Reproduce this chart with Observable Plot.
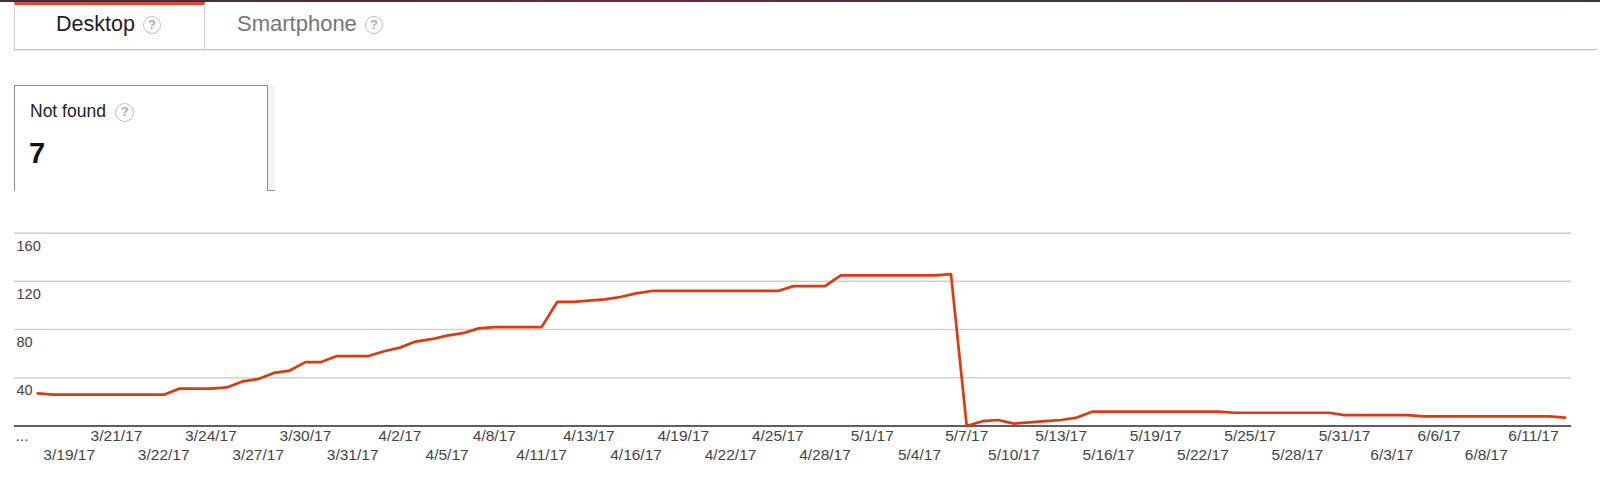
<!DOCTYPE html>
<html>
<head>
<meta charset="utf-8">
<script src="https://cdn.jsdelivr.net/npm/d3@7"></script>
<script src="https://cdn.jsdelivr.net/npm/@observablehq/plot@0.6"></script>
<style>
  html, body { margin: 0; padding: 0; background: #fff; }
  body { width: 1600px; height: 494px; position: relative; overflow: hidden;
         font-family: "Liberation Sans", Arial, Helvetica, sans-serif; }
  .abs { position: absolute; }
  .topbar { left: 0; top: 0; width: 1600px; height: 2px;
            background: linear-gradient(90deg, #3b3040, #4a2c3c 25%, #6a2a3a 40%, #3f3346 60%, #4b2e40 80%, #3a3344); }
  .tab.active { left: 14px; top: 2px; width: 191px; height: 48px; box-sizing: border-box;
                border-left: 1px solid #cfcfcf; border-right: 1px solid #cfcfcf;
                border-top: 3px solid #e0482f; }
  .tabline { left: 14px; top: 49px; width: 1583px; height: 1px; background: #c4c4c4;
             box-shadow: 0 1px 0 #ececec; }
  .tabtext { font-size: 21.5px; line-height: 24px; top: 12px; white-space: nowrap; }
  .q { display: inline-block; box-sizing: border-box; border-radius: 50%;
       border: 1.4px solid #c2c2c2; color: #adadad; text-align: center; font-weight: bold; }
  .card { left: 14px; top: 85px; width: 254px; height: 106px; box-sizing: border-box;
          border: 1.5px solid #8c8c8c; border-bottom: none; background: #fff; }
  .shadow { left: 268px; top: 86px; width: 7px; height: 105px; background: #f3f3f3;
            border-bottom: 1px solid #9a9a9a; box-sizing: border-box; }
  #chart { position: absolute; left: 0; top: 200px; }
</style>
</head>
<body>
<div class="abs topbar"></div>
<div class="abs tab active"></div>
<div class="abs tabline"></div>
<div class="abs tabtext" id="tab1" style="left:56px;color:#222;"></div>
<div class="abs" style="left:143px;top:15px;"><span class="q" style="width:18px;height:18px;font-size:13px;line-height:15.5px;">?</span></div>
<div class="abs tabtext" id="tab2" style="left:237px;color:#767676;font-size:22px;"></div>
<div class="abs" style="left:365px;top:15px;"><span class="q" style="width:18px;height:18px;font-size:13px;line-height:15.5px;">?</span></div>

<div class="abs shadow"></div>
<div class="abs card"></div>
<div class="abs" id="cardTitle" style="left:30px;top:100px;font-size:17.5px;line-height:22px;color:#222;"></div>
<div class="abs" style="left:115px;top:102px;"><span class="q" style="width:19px;height:19px;font-size:13.5px;line-height:16.5px;">?</span></div>
<div class="abs" id="cardValue" style="left:29px;top:136px;font-size:29px;line-height:34px;font-weight:bold;color:#111;"></div>

<div id="chart"></div>

<script>
// ---- texts ----
const tabLabels = ["Desktop", "Smartphone"];
const cardTitle = "Not found";
const cardValue = "7";

// ---- data: one value per reported day (98 points, evenly spaced categories) ----
const notFound = [
  27, 26, 26, 26, 26, 26, 26, 26, 26, 31,
  31, 31, 32, 37, 39, 44, 46, 53, 53, 58,
  58, 58, 62, 65, 70, 72, 75, 77, 81, 82,
  82, 82, 82, 103, 103, 104, 105, 107, 110, 112,
  112, 112, 112, 112, 112, 112, 112, 112, 116, 116,
  116, 125, 125, 125, 125, 125, 125, 125, 126, 0,
  4, 5, 2, 3, 4, 5, 7, 12, 12, 12,
  12, 12, 12, 12, 12, 12, 11, 11, 11, 11,
  11, 11, 11, 9, 9, 9, 9, 9, 8, 8,
  8, 8, 8, 8, 8, 8, 8, 7
];

// x tick labels, one every third category (first one is truncated)
const xTickLabels = [
  "...", "3/19/17", "3/21/17", "3/22/17", "3/24/17", "3/27/17", "3/30/17", "3/31/17",
  "4/2/17", "4/5/17", "4/8/17", "4/11/17", "4/13/17", "4/16/17", "4/19/17", "4/22/17",
  "4/25/17", "4/28/17", "5/1/17", "5/4/17", "5/7/17", "5/10/17", "5/13/17", "5/16/17",
  "5/19/17", "5/22/17", "5/25/17", "5/28/17", "5/31/17", "6/3/17", "6/6/17", "6/8/17", "6/11/17"
];
const yTicks = [40, 80, 120, 160];

// ---- header text ----
document.getElementById("tab1").textContent = tabLabels[0];
document.getElementById("tab2").textContent = tabLabels[1];
document.getElementById("cardTitle").textContent = cardTitle;
document.getElementById("cardValue").textContent = cardValue;

// ---- chart ----
const pts = notFound.map((v, i) => ({i, v}));
const ticks = xTickLabels.map((label, k) => ({pos: -1 + 3 * k, label, row: k % 2}));
const labelAt = new Map(ticks.map(t => [t.pos, t.label]));
const upper = ticks.filter(t => t.row === 0).map(t => t.pos);
const lower = ticks.filter(t => t.row === 1).map(t => t.pos);

const chart = Plot.plot({
  width: 1600,
  height: 294,
  marginTop: 32.6,
  marginBottom: 68.5,
  marginLeft: 14,
  marginRight: 29,
  style: {fontFamily: "Liberation Sans, Arial, sans-serif", fontSize: "15px", color: "#444", background: "transparent"},
  x: {domain: [-1.476, 97.41], axis: null},
  y: {domain: [0, 160], axis: null},
  marks: [
    Plot.ruleY(yTicks, {stroke: "#d2d2d2", strokeWidth: 1.6}),
    Plot.text(yTicks, {y: d => d, text: d => String(d), frameAnchor: "left", textAnchor: "start",
                       dx: 2, dy: 13, fill: "#444", fontSize: 14.5}),
    Plot.ruleY([0], {stroke: "#2a2a2a", strokeWidth: 1.6}),
    Plot.line(pts, {x: "i", y: "v", stroke: "#de3a10", strokeWidth: 2.7, strokeLinejoin: "round"}),
    Plot.axisX(upper, {tickSize: 0, tickPadding: 3.8, tickFormat: d => labelAt.get(d), label: null,
                       fill: "#444", fontSize: 15.5}),
    Plot.axisX(lower, {tickSize: 0, tickPadding: 22.8, tickFormat: d => labelAt.get(d), label: null,
                       fill: "#444", fontSize: 15.5})
  ]
});
document.getElementById("chart").appendChild(chart);
</script>
</body>
</html>
